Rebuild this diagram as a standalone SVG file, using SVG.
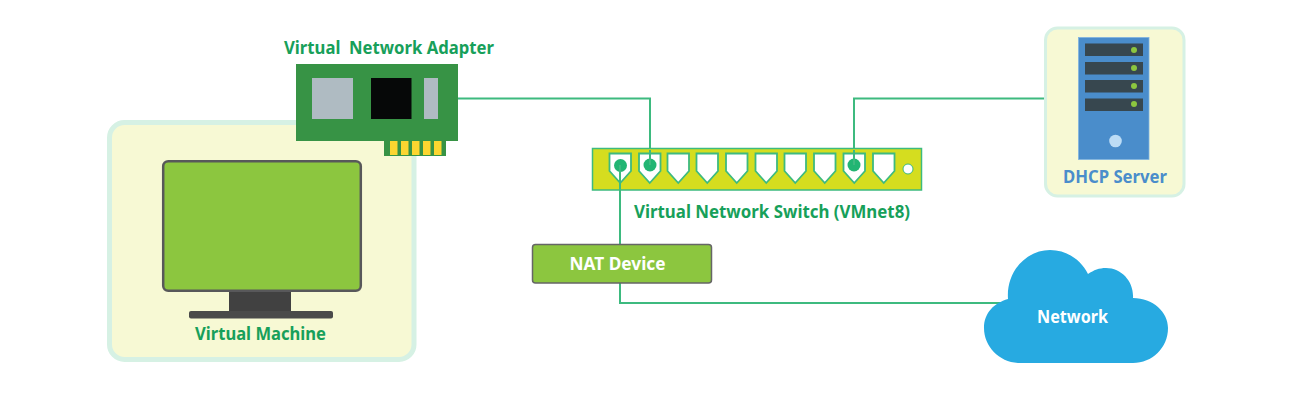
<svg xmlns="http://www.w3.org/2000/svg" width="1299" height="406" viewBox="0 0 1299 406">
<style>
text{font-family:"Noto Sans","Open Sans","Liberation Sans",sans-serif;font-weight:700;font-size:17.5px;white-space:pre}
.g{fill:#17a05a}.w{fill:#fff}.b{fill:#4a8dcb}
.panel{fill:#f7f9d4;stroke:#d6f1e4}
.wire{fill:none;stroke:#3dba7f;stroke-width:2}
.port{fill:#fff;stroke:#3dba7f;stroke-width:1.800}
.dot{fill:#22b573}
.gold{fill:#fcd630}
.slot{fill:#37474f}.led{fill:#8cc63f}
</style>
<defs><path id="p" class="port" d="M0 0H21.500V17.500L10.750 29.500L0 17.500Z"/></defs>
<rect width="1299" height="406" fill="#fff"/>
<g id="connectors">
<path class="wire" d="M458 98.500H650V165"/>
<path class="wire" d="M1045 98.500H854V165"/>
<path class="wire" d="M620 165V303H1002"/>
</g>
<g id="virtual-machine">
<rect class="panel" x="109.500" y="122.500" width="304.500" height="237" rx="15" stroke-width="5"/>
<rect x="163.200" y="161.200" width="197.600" height="129.600" rx="5" fill="#8cc63f" stroke="#58585a" stroke-width="2.500"/>
<rect x="229" y="292" width="62" height="20" fill="#414141"/>
<rect x="189" y="311" width="144" height="7.500" rx="2" fill="#4a4a4a"/>
<text class="g" x="195" y="340" textLength="131" lengthAdjust="spacingAndGlyphs">Virtual Machine</text>
</g>
<g id="virtual-network-adapter">
<rect x="296" y="64" width="162" height="77" fill="#379345"/>
<rect x="384" y="140" width="62" height="16" fill="#379345"/>
<rect x="312" y="78" width="41" height="41" fill="#afbbc2"/>
<rect x="371" y="78" width="40.500" height="41" fill="#060808"/>
<rect x="424" y="78" width="14" height="41" fill="#afbbc2"/>
<rect class="gold" x="390" y="141" width="7.500" height="14"/>
<rect class="gold" x="401" y="141" width="7.500" height="14"/>
<rect class="gold" x="412" y="141" width="7.500" height="14"/>
<rect class="gold" x="423" y="141" width="7.500" height="14"/>
<rect class="gold" x="434" y="141" width="7.500" height="14"/>
<text class="g" x="284" y="54" textLength="210" lengthAdjust="spacingAndGlyphs">Virtual  Network Adapter</text>
</g>
<g id="virtual-network-switch">
<rect x="592.500" y="148.500" width="329" height="41.500" fill="#d5dd1f" stroke="#3dba7f" stroke-width="1.500"/>
<use href="#p" x="609.500" y="153.500"/>
<use href="#p" x="639" y="153.500"/>
<use href="#p" x="667.500" y="153.500"/>
<use href="#p" x="696.500" y="153.500"/>
<use href="#p" x="726" y="153.500"/>
<use href="#p" x="755.500" y="153.500"/>
<use href="#p" x="784.500" y="153.500"/>
<use href="#p" x="814" y="153.500"/>
<use href="#p" x="843.500" y="153.500"/>
<use href="#p" x="873" y="153.500"/>
<circle cx="908" cy="169" r="5" fill="#fff" stroke="#3dba7f" stroke-width="1"/>
<circle class="dot" cx="620.500" cy="165.500" r="6.500"/>
<circle class="dot" cx="650" cy="165" r="6.500"/>
<circle class="dot" cx="854" cy="165" r="6.500"/>
<path d="M620 165V190" class="wire"/>
<path d="M650 150V165M854 150V165" class="wire"/>
<text class="g" x="634" y="218" textLength="276" lengthAdjust="spacingAndGlyphs">Virtual Network Switch (VMnet8)</text>
</g>
<g id="dhcp-server">
<rect class="panel" x="1045.500" y="28" width="138.500" height="168" rx="12" stroke-width="3"/>
<rect x="1078.500" y="37.500" width="70.500" height="122" fill="#4a8dcb" stroke="#7fb3e0" stroke-width=".8"/>
<rect class="slot" x="1085" y="43.500" width="58" height="12.500"/>
<rect class="slot" x="1085" y="62" width="58" height="12.500"/>
<rect class="slot" x="1085" y="80" width="58" height="12.500"/>
<rect class="slot" x="1085" y="98.500" width="58" height="12.500"/>
<circle class="led" cx="1134" cy="50" r="3"/>
<circle class="led" cx="1134" cy="68" r="3"/>
<circle class="led" cx="1134" cy="86" r="3"/>
<circle class="led" cx="1134" cy="104" r="3"/>
<circle cx="1115.500" cy="141" r="6.300" fill="#bcdcf5"/>
<text class="b" x="1063" y="183" textLength="104" lengthAdjust="spacingAndGlyphs">DHCP Server</text>
</g>
<g id="nat-device">
<rect x="532.500" y="244.500" width="179" height="38.500" rx="3" fill="#8cc63f" stroke="#666" stroke-width="1.500"/>
<text class="w" x="569.500" y="269.500" textLength="96" lengthAdjust="spacingAndGlyphs">NAT Device</text>
</g>
<g id="network">
<path fill="#27aae1" d="M1020 363C1000 363 984 347 984 328C984 313 994 303 1008 299C1006 272 1026 250 1050 250C1067 250 1081 260 1088 274C1094 270 1099 268 1106 268C1122 268 1134 282 1133 298C1153 298 1168 312 1168 328C1168 348 1152 363 1133 363Z"/>
<text class="w" x="1037" y="323" textLength="71" lengthAdjust="spacingAndGlyphs">Network</text>
</g>
</svg>
